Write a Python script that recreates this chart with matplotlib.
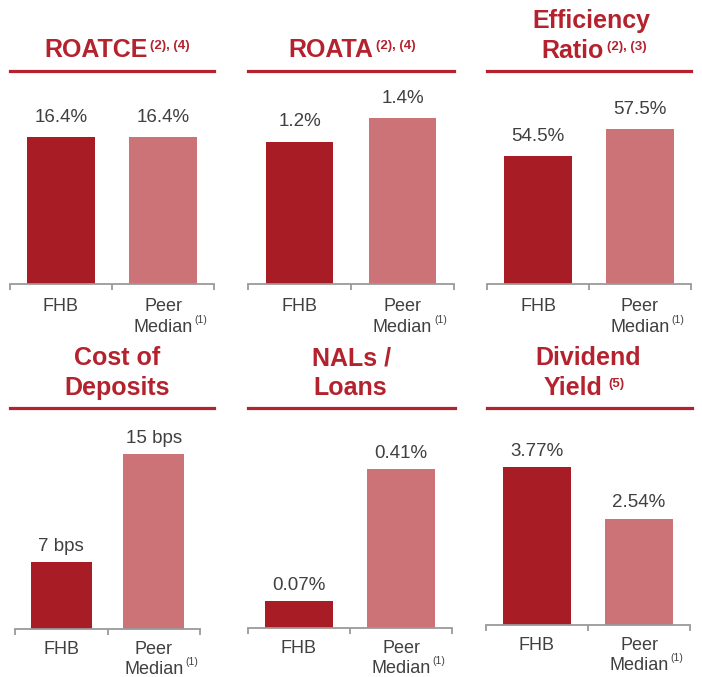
import matplotlib
matplotlib.use("Agg")
import matplotlib.pyplot as plt
from matplotlib.lines import Line2D

plt.rcParams['font.family'] = ['Liberation Sans', 'DejaVu Sans']

# data
categories = ["FHB", "Peer", "Median"]
titles = [["ROATCE"], ["ROATA"], ["Efficiency", "Ratio"],
          ["Cost of", "Deposits"], ["NALs /", "Loans"], ["Dividend", "Yield"]]
title_notes = ["(2), (4)", "(2), (4)", "(2), (3)", "", "", "(5)"]
fhb_values = [16.4, 1.2, 54.5, 7, 0.07, 3.77]
peer_values = [16.4, 1.4, 57.5, 15, 0.41, 2.54]
value_labels = [["16.4%", "16.4%"], ["1.2%", "1.4%"], ["54.5%", "57.5%"],
                ["7 bps", "15 bps"], ["0.07%", "0.41%"], ["3.77%", "2.54%"]]

# layout (pixels)
W, H = 702, 677
axis_spans = [(10, 214), (248, 454), (487, 691), (15, 200), (248, 452), (486, 690)]
line_spans = [(10, 214), (248, 454), (487, 691), (10, 214), (248, 455), (487, 692)]
baselines = [284, 284, 284, 629, 628, 625]
line_ys = [71, 71, 71, 408, 408, 408]
ylims = [(0, 23.8), (0, 1.796), (40.28, 63.95), (2.04, 18.41), (0, 0.568), (0, 5.18)]
title_xs = [[96], [331], [591, 573], [117, 117], [352, 350], [588, 573]]
label_off = [11, 11, 11, 8, 8, 8]
peer_off = [-16, -16, -16, -15, -15, -15]
median_off = [-31, -31, -31, -29, -29, -29]

title_red = "#B4222E"
fhb_color = "#A81C26"
peer_color = "#CC7378"
text_gray = "#404040"
axis_gray = "#9A9A9A"

fig = plt.figure(figsize=(W / 100, H / 100), dpi=100)


def fx(x):
    return x / W


def fy(y):
    return 1 - y / H


for i in range(6):
    x0, x1 = axis_spans[i]
    ax = fig.add_axes([fx(x0), fy(baselines[i]), (x1 - x0) / W,
                       (baselines[i] - line_ys[i]) / H])
    vals = [fhb_values[i], peer_values[i]]
    bars = ax.bar([0, 1], vals, width=0.66, color=[fhb_color, peer_color])
    ax.set_xlim(-0.5, 1.5)
    ax.set_ylim(*ylims[i])
    for b, lab in zip(bars, value_labels[i]):
        ax.annotate(lab, (b.get_x() + b.get_width() / 2, b.get_height()),
                    xytext=(0, label_off[i]), textcoords="offset points",
                    ha="center", va="baseline", fontsize=13.5, color=text_gray)
    for s in ["top", "left", "right"]:
        ax.spines[s].set_visible(False)
    ax.spines["bottom"].set_color(axis_gray)
    ax.spines["bottom"].set_linewidth(1.3)
    ax.set_yticks([])
    ax.set_xticks([-0.5, 0.5, 1.5])
    ax.set_xticklabels([])
    ax.tick_params(axis="x", length=4, width=1.3, color=axis_gray, direction="out")

    # category labels
    trans = ax.get_xaxis_transform()
    ax.annotate(categories[0], (0, 0), xycoords=trans, xytext=(0, peer_off[i]),
                textcoords="offset points", ha="center", va="center",
                fontsize=13, color=text_gray)
    ax.annotate(categories[1], (1, 0), xycoords=trans, xytext=(0, peer_off[i]),
                textcoords="offset points", ha="center", va="center",
                fontsize=13, color=text_gray)
    med = ax.annotate(categories[2], (1, 0), xycoords=trans,
                      xytext=(0, median_off[i]), textcoords="offset points",
                      ha="center", va="center", fontsize=13, color=text_gray,
                      annotation_clip=False)
    ax.annotate("(1)", (1.0, 1.0), xycoords=med, xytext=(1.5, -1),
                textcoords="offset points", ha="left", va="center",
                fontsize=7.5, color=text_gray)

    # title line
    lx0, lx1 = line_spans[i]
    fig.add_artist(Line2D([fx(lx0), fx(lx1)], [fy(line_ys[i])] * 2,
                          color=title_red, lw=2.3))

    # title text
    if len(titles[i]) == 1:
        ys = [line_ys[i] - 21]
    else:
        ys = [line_ys[i] - 50, line_ys[i] - 20]
    last = None
    for t, y, xc in zip(titles[i], ys, title_xs[i]):
        last = fig.text(fx(xc), fy(y), t, ha="center", va="center",
                        fontsize=18, fontweight="bold", color=title_red)
    if title_notes[i]:
        gap = 4 if i == 5 else 2
        ax.annotate(title_notes[i], (1.0, 0.92), xycoords=last,
                    xytext=(gap, 0), textcoords="offset points",
                    ha="left", va="top", fontsize=9.5, fontweight="bold",
                    color=title_red, annotation_clip=False)

fig.savefig("out.png", dpi=100)
